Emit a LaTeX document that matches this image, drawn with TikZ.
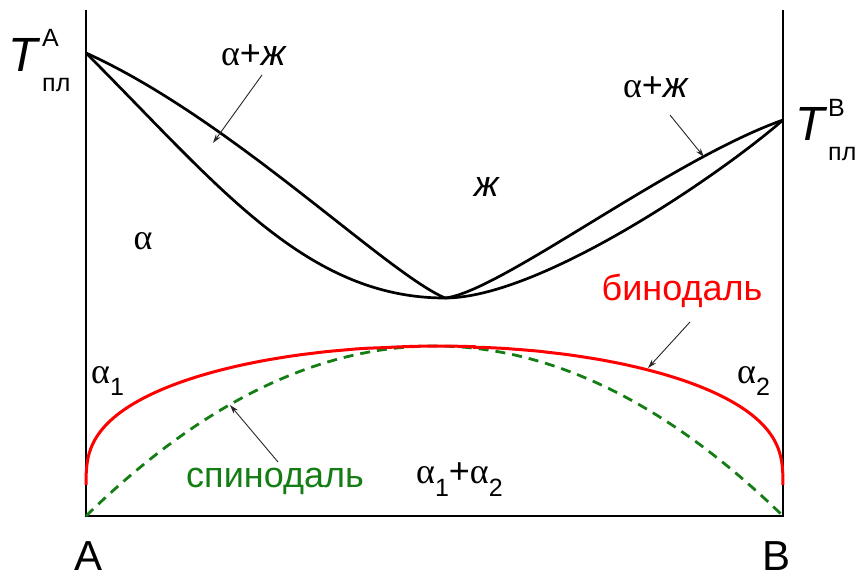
\documentclass[tikz,border=0pt]{standalone}
\usepackage{fontspec}
\setmainfont{Liberation Sans}
\newfontfamily\grkfont{Liberation Serif}
\usetikzlibrary{arrows.meta}
\definecolor{spgreen}{RGB}{20,125,20}
\newcommand\myalpha{{\grkfont α}}
\newcommand\mysub[1]{\raisebox{-13pt}{\fontsize{25}{25}\selectfont #1}}
\tikzset{
  axisline/.style={line width=2pt, black},
  phasecurve/.style={line width=2.7pt, black},
  binodcurve/.style={line width=3pt, red},
  spinodcurve/.style={line width=2.8pt, spgreen, dash pattern=on 10pt off 7pt},
  pointer/.style={line width=0.9pt, black!85, -{Stealth[length=9pt,width=5.5pt]}},
  lbl/.style={inner sep=0pt, font=\fontsize{36}{40}\selectfont},
  bigT/.style={inner sep=0pt, anchor=base west, font=\fontsize{48}{50}\selectfont\itshape},
  smalltxt/.style={inner sep=0pt, anchor=base west, font=\fontsize{25}{27}\selectfont},
}
\begin{document}
\begin{tikzpicture}[x=1pt,y=-1pt]
\fill[white] (0,0) rectangle (863,580);
\useasboundingbox (0,0) rectangle (863,580);

% frame
\coordinate (lt) at (86,10);
\coordinate (lb) at (86,516);
\coordinate (rt) at (783,10);
\coordinate (rb) at (783,516);
\draw[axisline] (lt) -- (lb) -- (rb) -- (rt);

% liquidus / solidus
\coordinate (tA) at (86,53);
\coordinate (tB) at (783,120);
\coordinate (mn) at (445,298);
\draw[phasecurve] (tA) .. controls (230,118) and (385,272) .. (mn);
\draw[phasecurve] (tA) .. controls (216,183) and (305,298) .. (mn);
\draw[phasecurve] (mn) .. controls (500,292) and (670,160) .. (tB);
\draw[phasecurve] (mn) .. controls (540,298) and (720,175) .. (tB);

% spinodal
\draw[spinodcurve] plot[domain=0:1, samples=90, variable=\u]
  ({86+697*\u}, {516-680*\u*(1-\u)});

% binodal
\coordinate (bl) at (394.52,346.73);
\coordinate (br) at (474.48,346.73);
\draw[binodcurve]
  plot[domain=0.0764:0.97, samples=140, variable=\t]
   ({86+348.5*\t^4}, {516-340*(1-\t^4)/(ln(1-0.5*\t^4)+0.693147-4*ln(\t))})
  .. controls (421,345.76) and (448,345.76) .. (br)
  -- plot[domain=0.97:0.0764, samples=140, variable=\t]
   ({783-348.5*\t^4}, {516-340*(1-\t^4)/(ln(1-0.5*\t^4)+0.693147-4*ln(\t))});

% melting point labels
\node[bigT] (TA) at (8,72) {T};
\node[smalltxt] (TAsup) at (42,47) {A};
\node[smalltxt] (TAsub) at (42,92) {пл};
\node[bigT] (TB) at (795,141) {T};
\node[smalltxt] (TBsup) at (828,117) {B};
\node[smalltxt] (TBsub) at (828,161) {пл};

% region labels
\node[lbl, anchor=base] (la) at (254,66) {\myalpha+\textit{ж}};
\node[lbl, anchor=base] (ra) at (656,98) {\myalpha+\textit{ж}};
\node[lbl, anchor=base] (alph) at (143,250) {\myalpha};
\node[lbl, anchor=base] (liq) at (487,197) {\textit{ж}};
\node[lbl, anchor=base west] (a1) at (91,383) {\myalpha\mysub{1}};
\node[lbl, anchor=base west] (a2) at (737,383) {\myalpha\mysub{2}};
\node[lbl, anchor=base west] (a12) at (416,483) {\myalpha\mysub{1}+\myalpha\mysub{2}};
\node[lbl, anchor=base, text=spgreen] (spl) at (275,487) {спинодаль};
\node[lbl, anchor=base, text=red] (bnl) at (682,301) {бинодаль};
\node[inner sep=0pt, anchor=base, font=\fontsize{42}{44}\selectfont] (cA) at (89,570) {A};
\node[inner sep=0pt, anchor=base, font=\fontsize{42}{44}\selectfont] (cB) at (777,570) {B};

% pointers
\coordinate (p1s) at (262,75);  \coordinate (p1e) at (213,143);
\coordinate (p2s) at (670,115); \coordinate (p2e) at (704,157);
\coordinate (p3s) at (278,462); \coordinate (p3e) at (230,405);
\coordinate (p4s) at (690,322); \coordinate (p4e) at (648,368);
\draw[pointer] (p1s) -- (p1e);
\draw[pointer] (p2s) -- (p2e);
\draw[pointer] (p3s) -- (p3e);
\draw[pointer] (p4s) -- (p4e);
\end{tikzpicture}
\end{document}
